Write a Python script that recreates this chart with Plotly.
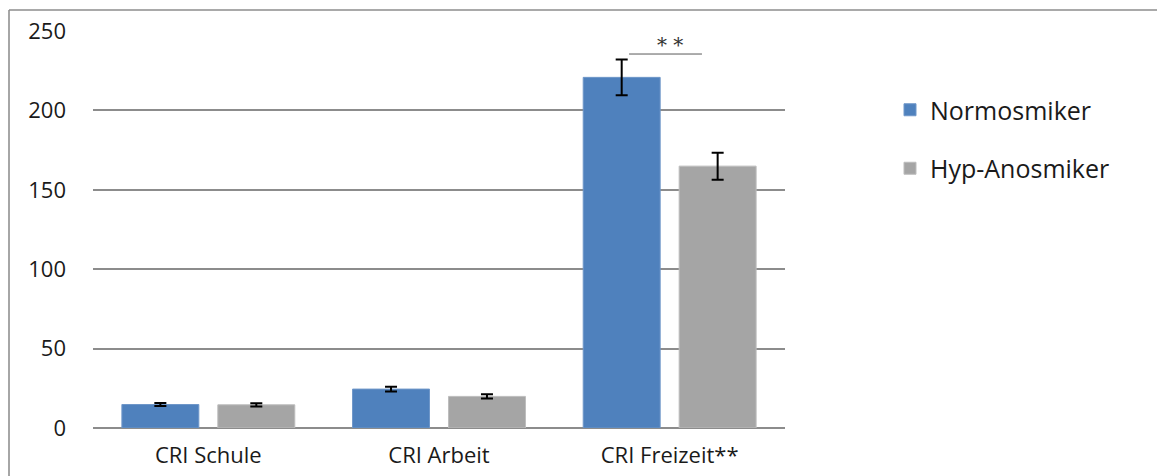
import plotly.graph_objects as go

# Mean CRI scores per domain for the two olfactory groups
categories = ["CRI Schule", "CRI Arbeit", "CRI Freizeit**"]
normosmiker = [14.8, 24.5, 220.8]
normosmiker_err = [1.0, 1.5, 11.2]
hyp_anosmiker = [14.6, 19.9, 164.9]
hyp_anosmiker_err = [1.0, 1.4, 8.5]
y_ticks = [0, 50, 100, 150, 200, 250]

# significance bracket over the Freizeit pair
sig_label = "* *"
sig_level = 235.5
sig_label_level = 241.5

W, H = 1157, 476
L, R, T, B = 93, 785, 31, 428

fig = go.Figure()
fig.add_trace(go.Bar(
    name="Normosmiker", x=categories, y=normosmiker, legendgroup="n",
    marker=dict(color="#4f81bd", line=dict(color="#6f97c9", width=1)),
    error_y=dict(type="data", array=normosmiker_err, color="black", thickness=2, width=6),
))
fig.add_trace(go.Bar(
    name="Hyp-Anosmiker", x=categories, y=hyp_anosmiker, legendgroup="h",
    marker=dict(color="#a5a5a5", line=dict(color="#bdbdbd", width=1)),
    error_y=dict(type="data", array=hyp_anosmiker_err, color="black", thickness=2, width=6),
))

def px_to_paper_x(px):
    return (px - L) / (R - L)

def px_to_paper_y(py):
    return (B - py) / (B - T)

shapes = [
    # frame: left and top edges
    dict(type="line", xref="paper", yref="paper",
         x0=px_to_paper_x(9), x1=px_to_paper_x(9),
         y0=px_to_paper_y(10), y1=px_to_paper_y(480),
         line=dict(color="#a6a6a6", width=2)),
    dict(type="line", xref="paper", yref="paper",
         x0=px_to_paper_x(9), x1=px_to_paper_x(1160),
         y0=px_to_paper_y(10), y1=px_to_paper_y(10),
         line=dict(color="#8c8c8c", width=1.5)),
    # significance bracket
    dict(type="line", xref="x", yref="y",
         x0=2 - 0.176, x1=2 + 0.14, y0=sig_level, y1=sig_level,
         line=dict(color="#595959", width=1)),
]

fig.update_layout(
    width=W, height=H,
    margin=dict(l=L, r=W - R, t=T, b=H - B, pad=0, autoexpand=False),
    paper_bgcolor="white", plot_bgcolor="white",
    font=dict(family="Open Sans, sans-serif", size=22, color="#1a1a1a"),
    barmode="group", bargap=0.168, bargroupgap=0.198,
    showlegend=True,
    legend=dict(
        x=px_to_paper_x(890), y=px_to_paper_y(87), xanchor="left", yanchor="top",
        font=dict(size=25, color="#1a1a1a"),
        traceorder="grouped", tracegroupgap=23,
        bgcolor="rgba(0,0,0,0)",
    ),
    shapes=shapes,
    annotations=[dict(
        x=2, y=sig_label_level, xref="x", yref="y", text=sig_label,
        showarrow=False, font=dict(family="DejaVu Serif, serif", size=20, color="#333333"),
    )],
)
fig.update_xaxes(
    showgrid=False, showline=False, ticks="", ticklabelstandoff=12,
    tickfont=dict(size=22), automargin=False,
)
fig.update_yaxes(
    range=[0, 250], tickvals=y_ticks, showgrid=True, gridcolor="#8c8c8c", gridwidth=1.5,
    zeroline=True, zerolinecolor="#8c8c8c", zerolinewidth=2,
    showline=False, ticks="", ticklabelstandoff=26, tickfont=dict(size=22), automargin=False,
)

fig.write_html("out.html")
